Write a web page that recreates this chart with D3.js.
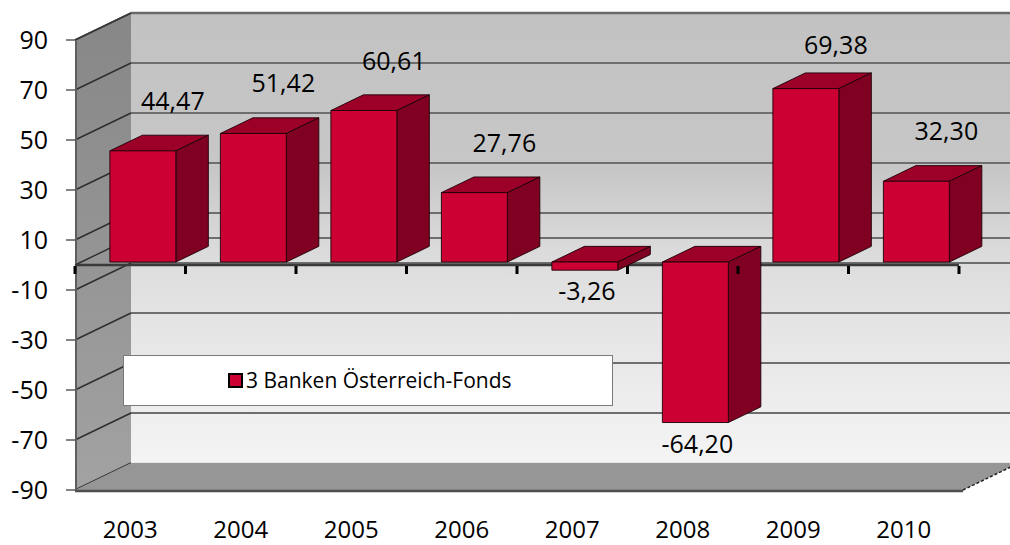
<!DOCTYPE html>
<html>
<head>
<meta charset="utf-8">
<script src="https://cdn.jsdelivr.net/npm/d3@7"></script>
<style>
  body { margin: 0; background: #fff; }
  text { font-family: "Open Sans", "Liberation Sans", sans-serif; fill: #000; }
</style>
</head>
<body>
<div id="chart"></div>
<script>
// data
var years = ["2003", "2004", "2005", "2006", "2007", "2008", "2009", "2010"];
var values = [44.47, 51.42, 60.61, 27.76, -3.26, -64.20, 69.38, 32.30];
var yTicks = [90, 70, 50, 30, 10, -10, -30, -50, -70, -90];
var seriesName = "3 Banken Österreich-Fonds";

var width = 1010, height = 545;

// 3d depth offset of the back wall
var DX = 56, DY = -27;
var d0 = 0.11, d1 = 0.69;   // front / back of the bars (fraction of depth)

var svg = d3.select("#chart")
  .append("svg")
    .attr("width", width)
    .attr("height", height);

var x = d3.scaleBand()
  .domain(years)
  .range([75, 959]);

var y = d3.scaleLinear()
  .domain([-90, 90])
  .range([490, 40]);

var loc = d3.formatLocale({decimal: ",", thousands: ".", grouping: [3], currency: ["", ""], minus: "-"});
var fmt = loc.format(".2f");
var fmtTick = loc.format("d");

function proj(px, v, d) {
  return [px + DX * d, y(v) + DY * d];
}
function poly(pts) {
  return "M" + pts.map(function(p) { return p[0] + "," + p[1]; }).join("L") + "Z";
}

var defs = svg.append("defs");
var gBack = defs.append("linearGradient").attr("id", "back")
  .attr("x1", 0).attr("y1", 0).attr("x2", 0).attr("y2", 1);
gBack.append("stop").attr("offset", "0%").attr("stop-color", "#c2c2c2");
gBack.append("stop").attr("offset", "35%").attr("stop-color", "#c7c7c7");
gBack.append("stop").attr("offset", "52%").attr("stop-color", "#dadada");
gBack.append("stop").attr("offset", "60%").attr("stop-color", "#e0e0e0");
gBack.append("stop").attr("offset", "100%").attr("stop-color", "#f4f4f4");
var gLeft = defs.append("linearGradient").attr("id", "left")
  .attr("x1", 0).attr("y1", 0).attr("x2", 0).attr("y2", 1);
gLeft.append("stop").attr("offset", "0%").attr("stop-color", "#878787");
gLeft.append("stop").attr("offset", "100%").attr("stop-color", "#a2a2a2");

var x0 = x.range()[0], x1 = x.range()[1];

// back wall
var bTop = proj(x0, 90, 1), bBot = proj(x0, -90, 1);
svg.append("rect")
  .attr("x", bTop[0]).attr("y", bTop[1])
  .attr("width", width + 10 - bTop[0]).attr("height", bBot[1] - bTop[1])
  .attr("fill", "url(#back)");

// back wall gridlines
svg.selectAll(".bgrid")
  .data(yTicks.concat([0]))
  .enter().append("line")
    .attr("x1", bTop[0]).attr("x2", width + 10)
    .attr("y1", function(d) { return proj(x0, d, 1)[1]; })
    .attr("y2", function(d) { return proj(x0, d, 1)[1]; })
    .attr("stroke", function(d) { return d === -90 ? "#e8e8e8" : "#6e6e6e"; })
    .attr("stroke-width", 2.2);

// left wall
svg.append("path")
  .attr("d", poly([proj(x0, 90, 0), proj(x0, 90, 1), proj(x0, -90, 1), proj(x0, -90, 0)]))
  .attr("fill", "url(#left)");

svg.selectAll(".lgrid")
  .data(yTicks.concat([0]))
  .enter().append("line")
    .attr("x1", x0).attr("y1", function(d) { return y(d); })
    .attr("x2", proj(x0, 0, 1)[0]).attr("y2", function(d) { return proj(x0, d, 1)[1]; })
    .attr("stroke", "#2e2e2e")
    .attr("stroke-width", 1.4);

// floor
svg.append("path")
  .attr("d", poly([proj(x0, -90, 0), proj(x1 + 4, -90, 0), proj(x1 + 4, -90, 1), proj(x0, -90, 1)]))
  .attr("fill", "#969696");
svg.append("line")
  .attr("x1", x0).attr("x2", x1 + 4)
  .attr("y1", y(-90) + 1).attr("y2", y(-90) + 1)
  .attr("stroke", "#4e4e4e").attr("stroke-width", 2.5);
svg.append("line")
  .attr("x1", x1 + 4).attr("y1", y(-90))
  .attr("x2", proj(x1 + 4, -90, 1)[0]).attr("y2", proj(x1 + 4, -90, 1)[1])
  .attr("stroke", "#222").attr("stroke-width", 1.5)
  .attr("stroke-dasharray", "3,2");

// top edges of the walls
svg.append("line")
  .attr("x1", bTop[0]).attr("x2", width + 10)
  .attr("y1", bTop[1]).attr("y2", bTop[1])
  .attr("stroke", "#6a6a6a").attr("stroke-width", 2.5);
svg.append("line")
  .attr("x1", x0).attr("y1", y(90))
  .attr("x2", bTop[0]).attr("y2", bTop[1])
  .attr("stroke", "#3a3a3a").attr("stroke-width", 1.5);
svg.append("line")
  .attr("x1", x0 + 1).attr("x2", x0 + 1)
  .attr("y1", y(90)).attr("y2", y(-90))
  .attr("stroke", "#5e5e5e").attr("stroke-width", 2);

// y axis ticks + labels
svg.selectAll(".ytick")
  .data(yTicks)
  .enter().append("line")
    .attr("x1", x0 - 9).attr("x2", x0)
    .attr("y1", function(d) { return y(d); })
    .attr("y2", function(d) { return y(d); })
    .attr("stroke", "#333").attr("stroke-width", 1.2);
svg.selectAll(".ylab")
  .data(yTicks)
  .enter().append("text")
    .attr("x", 48)
    .attr("y", function(d) { return y(d) + 9; })
    .attr("text-anchor", "end")
    .style("font-size", "25px")
    .text(function(d) { return fmtTick(d); });

// category axis at zero
svg.append("line")
  .attr("x1", x0).attr("x2", x1)
  .attr("y1", y(0)).attr("y2", y(0))
  .attr("stroke", "#3a3a3a").attr("stroke-width", 2.5);

// bars
var bw = x.bandwidth();
var barL = 0.26, barW = 0.597;

var bars = svg.selectAll(".bar")
  .data(values)
  .enter().append("g");

bars.each(function(v, i) {
  var g = d3.select(this);
  var xl = x(years[i]) + bw * barL, xr = xl + bw * barW;
  var top = Math.max(v, 0), bot = Math.min(v, 0);
  // top face
  g.append("path")
    .attr("d", poly([proj(xl, top, d0), proj(xr, top, d0), proj(xr, top, d1), proj(xl, top, d1)]))
    .attr("fill", "#9c0029").attr("stroke", "#1c0008").attr("stroke-width", 0.9);
  // side face
  g.append("path")
    .attr("d", poly([proj(xr, top, d0), proj(xr, top, d1), proj(xr, bot, d1), proj(xr, bot, d0)]))
    .attr("fill", "#7f0020").attr("stroke", "#1c0008").attr("stroke-width", 0.9);
  // front face
  g.append("path")
    .attr("d", poly([proj(xl, top, d0), proj(xr, top, d0), proj(xr, bot, d0), proj(xl, bot, d0)]))
    .attr("fill", "#cc0033").attr("stroke", "#1c0008").attr("stroke-width", 0.9);
});

// category ticks
svg.selectAll(".xtick")
  .data(years.concat(["end"]))
  .enter().append("line")
    .attr("x1", function(d, i) { return x0 + i * bw; })
    .attr("x2", function(d, i) { return x0 + i * bw; })
    .attr("y1", y(0) + 1).attr("y2", y(0) + 9)
    .attr("stroke", "#000").attr("stroke-width", 3);

// value labels
svg.selectAll(".vlab")
  .data(values)
  .enter().append("text")
    .attr("x", function(d, i) {
      var c = x(years[i]) + bw * (barL + barW / 2) + DX * d0;
      return d >= 0 ? c + 30 : c + 2;
    })
    .attr("y", function(d) {
      var yy = y(d) + DY * d0;
      return d >= 0 ? Math.max(yy - 50, 45) + 9 : yy + 21 + 9;
    })
    .attr("text-anchor", "middle")
    .style("font-size", "25px")
    .text(function(d) { return fmt(d); });

// category labels
svg.selectAll(".xlab")
  .data(years)
  .enter().append("text")
    .attr("x", function(d) { return x(d) + bw / 2; })
    .attr("y", 538)
    .attr("text-anchor", "middle")
    .style("font-size", "24px")
    .text(function(d) { return d; });

// legend
var legend = svg.append("g");
legend.append("rect")
  .attr("x", 123.5).attr("y", 355.5)
  .attr("width", 489).attr("height", 50)
  .attr("fill", "#fff").attr("stroke", "#7a7a7a").attr("stroke-width", 1);
legend.append("rect")
  .attr("x", 229).attr("y", 374)
  .attr("width", 13).attr("height", 13)
  .attr("fill", "#cc0033").attr("stroke", "#000").attr("stroke-width", 2);
legend.append("text")
  .attr("x", 246).attr("y", 388)
  .style("font-size", "21px")
  .text(seriesName);
</script>
</body>
</html>
